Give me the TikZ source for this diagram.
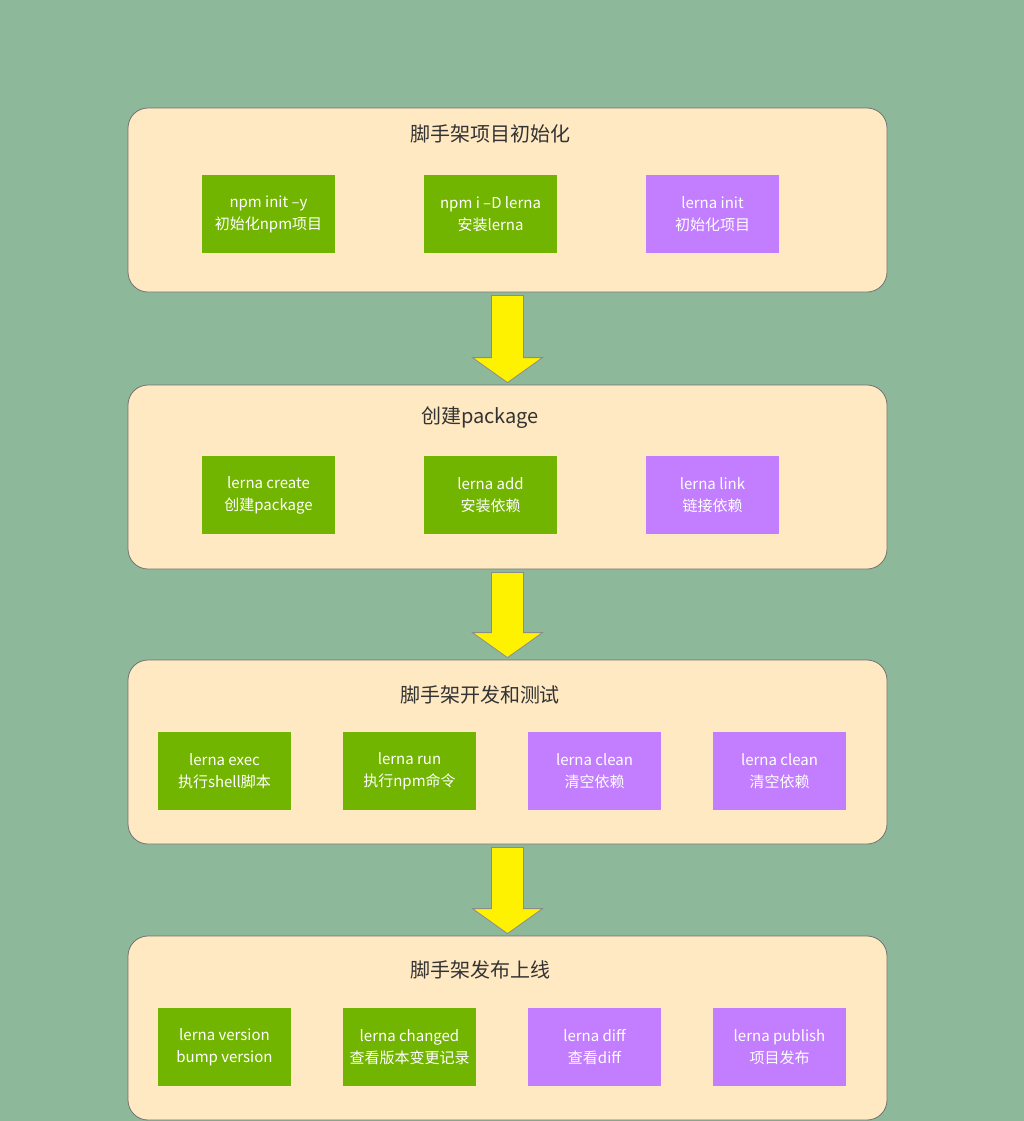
\documentclass[tikz,border=0pt]{standalone}
\usepackage{fontspec}
\setmainfont{Noto Sans CJK SC}
\usepackage{xcolor}
\usepackage{tikz}
\usetikzlibrary{calc}

\definecolor{bgc}{HTML}{8DB89A}
\definecolor{stagec}{HTML}{FFE9C2}
\definecolor{cmdg}{HTML}{72B500}
\definecolor{cmdp}{HTML}{C27EFF}

\begin{document}
\begin{tikzpicture}[x=0.5pt, y=-0.5pt,
  stage/.style={draw=black!55, fill=stagec, rounded corners=10pt,
    minimum width=379.5pt, minimum height=92pt, inner sep=0pt},
  ttl/.style={text=black!80, font=\fontsize{10}{12}\selectfont},
  cmd/.style={minimum width=66.5pt, minimum height=39pt, inner sep=0pt,
    align=center, text=white, font=\fontsize{7.5}{11}\selectfont},
  gbox/.style={cmd, fill=cmdg},
  pbox/.style={cmd, fill=cmdp},
  blk/.style={draw=black!45, fill=yellow, line join=miter}]
  % background fixes the page size (1 unit = 1 px of the reference)
  \fill[bgc] (0,0) rectangle (1024,1121);
  \useasboundingbox (0,0) rectangle (1024,1121);
  % the four stages
  \node[stage] (s1) at (507.5,200) {};
  \node[stage] (s2) at (507.5,477) {};
  \node[stage] (s3) at (507.5,752) {};
  \node[stage] (s4) at (507.5,1028) {};
  % stage 1: init
  \node[ttl] (t1) at (490,134) {脚手架项目初始化};
  \node[gbox] (npminit) at (268.5,214) {npm init --y\\初始化npm项目};
  \node[gbox] (npmi) at (490.5,214) {npm i --D lerna\\安装lerna};
  \node[pbox] (lernainit) at (712.5,214) {lerna init\\初始化项目};
  % stage 2: packages
  \node[ttl] (t2) at (480,418) {创建package};
  \node[gbox] (create) at (268.5,495) {lerna create\\创建package};
  \node[gbox] (add) at (490.5,495) {lerna add\\安装依赖};
  \node[pbox] (link) at (712.5,495) {lerna link\\链接依赖};
  % stage 3: develop and test
  \node[ttl] (t3) at (480,695) {脚手架开发和测试};
  \node[gbox] (exec) at (224.5,771) {lerna exec\\执行shell脚本};
  \node[gbox] (run) at (409.5,771) {lerna run\\执行npm命令};
  \node[pbox] (cleana) at (594.5,771) {lerna clean\\清空依赖};
  \node[pbox] (cleanb) at (779.5,771) {lerna clean\\清空依赖};
  % stage 4: publish
  \node[ttl] (t4) at (480,970) {脚手架发布上线};
  \node[gbox] (version) at (224.5,1047) {lerna version\\bump version};
  \node[gbox] (changed) at (409.5,1047) {lerna changed\\查看版本变更记录};
  \node[pbox] (diff) at (594.5,1047) {lerna diff\\查看diff};
  \node[pbox] (publish) at (779.5,1047) {lerna publish\\项目发布};
  % block arrows between stages
  \foreach \a/\b in {s1/s2, s2/s3, s3/s4}
    \draw[blk] ($(\a.south)+(-16,3)$) -- ($(\a.south)+(16,3)$)
      -- ($(\b.north)+(16,-27)$) -- ($(\b.north)+(35,-27)$)
      -- ($(\b.north)+(0,-2)$) -- ($(\b.north)+(-35,-27)$)
      -- ($(\b.north)+(-16,-27)$) -- cycle;
\end{tikzpicture}
\end{document}
